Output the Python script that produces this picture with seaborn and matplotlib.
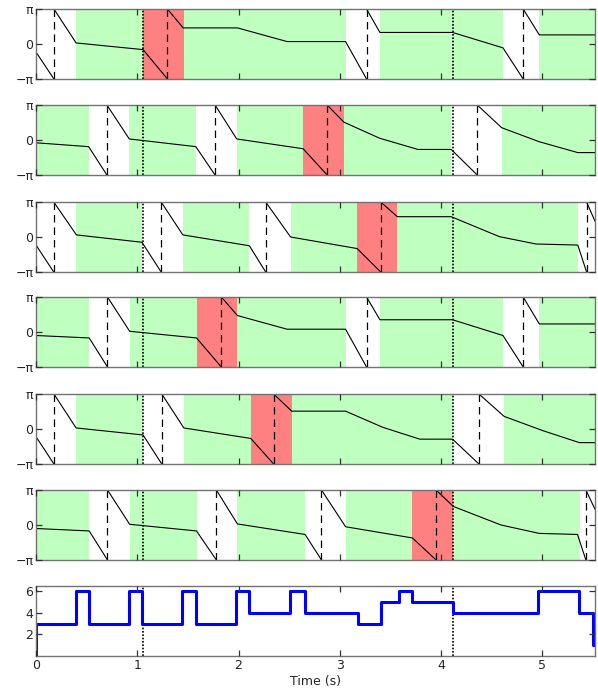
import numpy as np
import pandas as pd
import matplotlib
matplotlib.use("Agg")
import matplotlib.pyplot as plt
import seaborn as sns

sns.set_style("white")
plt.rcParams['font.family'] = ['DejaVu Sans']
plt.rcParams['axes.axisbelow'] = False

nan = np.nan
T_END = 5.52
marks = [1.057, 4.113]          # dotted reference times

# -----------------------------
# phase panels: time (s), phase (units of pi); nan = wrap from -pi to pi
# -----------------------------
p1_t = [0, 0.177, nan, 0.177, 0.396, 1.057, 1.298, nan, 1.298, 1.453, 1.989, 2.479, 3.057, 3.264,
        nan, 3.264, 3.396, 4.113, 4.611, 4.811, nan, 4.811, 4.970, 5.52]
p1_y = [-0.23, -1, nan, 1, 0.03, -0.16, -1, nan, 1, 0.46, 0.46, 0.07, 0.07, -1,
        nan, 1, 0.33, 0.33, -0.11, -1, nan, 1, 0.26, 0.26]
p1_green = [(0.396, 1.057), (1.46, 3.057), (3.396, 4.611), (4.97, 5.52)]
p1_red = (1.057, 1.46)

p2_t = [0, 0.52, 0.70, nan, 0.70, 0.921, 1.578, 1.768, nan, 1.768, 1.982, 2.638, 2.875,
        nan, 2.875, 3.04, 3.394, 3.771, 4.10, 4.357, nan, 4.357, 4.599, 4.97, 5.35, 5.52]
p2_y = [-0.08, -0.19, -1, nan, 1, 0.03, -0.19, -1, nan, 1, 0.03, -0.25, -1,
        nan, 1, 0.51, 0.05, -0.27, -0.27, -1, nan, 1, 0.35, -0.05, -0.36, -0.36]
p2_green = [(0, 0.52), (0.921, 1.578), (1.982, 2.638), (3.04, 4.10), (4.60, 5.52)]
p2_red = (2.638, 3.04)

p3_t = [0, 0.175, nan, 0.175, 0.399, 1.046, 1.236, nan, 1.236, 1.45, 2.107, 2.268,
        nan, 2.268, 2.514, 3.171, 3.404, nan, 3.404, 3.568, 4.10, 4.576, 4.938, 5.35, 5.437,
        nan, 5.437, 5.52]
p3_y = [-0.23, -1, nan, 1, 0.06, -0.15, -1, nan, 1, 0.06, -0.25, -1,
        nan, 1, 0.0, -0.33, -1, nan, 1, 0.58, 0.58, 0.01, -0.2, -0.23, -1,
        nan, 1, 0.45]
p3_green = [(0.399, 1.046), (1.45, 2.107), (2.514, 3.171), (3.568, 5.35)]
p3_red = (3.171, 3.568)

p4_t = [0, 0.525, 0.706, nan, 0.706, 0.925, 1.585, 1.83, nan, 1.83, 1.989, 2.479, 3.057, 3.264,
        nan, 3.264, 3.396, 4.113, 4.611, 4.811, nan, 4.811, 4.97, 5.52]
p4_y = [-0.1, -0.17, -1, nan, 1, 0.02, -0.17, -1, nan, 1, 0.47, 0.08, 0.08, -1,
        nan, 1, 0.35, 0.35, -0.1, -1, nan, 1, 0.23, 0.23]
p4_green = [(0, 0.525), (0.925, 1.585), (1.989, 3.057), (3.396, 4.611), (4.97, 5.52)]
p4_red = (1.585, 1.989)

p5_t = [0, 0.177, nan, 0.177, 0.396, 1.057, 1.242, nan, 1.242, 1.46, 2.121, 2.347,
        nan, 2.347, 2.525, 3.057, 3.423, 3.789, 4.113, 4.374, nan, 4.374, 4.623, 5.008, 5.366, 5.52]
p5_y = [-0.22, -1, nan, 1, 0.03, -0.17, -1, nan, 1, 0.03, -0.27, -1,
        nan, 1, 0.51, 0.51, 0.05, -0.29, -0.29, -1, nan, 1, 0.36, -0.05, -0.39, -0.39]
p5_green = [(0.396, 1.057), (1.46, 2.121), (2.525, 4.113), (4.623, 5.52)]
p5_red = (2.121, 2.525)

p6_t = [0, 0.525, 0.706, nan, 0.706, 0.925, 1.585, 1.781, nan, 1.781, 1.989, 2.657, 2.819,
        nan, 2.819, 3.057, 3.717, 3.951, nan, 3.951, 4.121, 4.592, 4.97, 5.347, 5.43,
        nan, 5.43, 5.52]
p6_y = [-0.1, -0.17, -1, nan, 1, 0.02, -0.17, -1, nan, 1, 0.03, -0.27, -1,
        nan, 1, -0.05, -0.37, -1, nan, 1, 0.53, 0.0, -0.24, -0.27, -1,
        nan, 1, 0.45]
p6_green = [(0, 0.525), (0.925, 1.585), (1.989, 2.657), (3.057, 3.717), (4.121, 5.374)]
p6_red = (3.717, 4.121)

# bottom panel: state sequence
step_t = [0, 0, 0.393, 0.525, 0.918, 1.049, 1.443, 1.584, 1.977, 2.108, 2.508, 2.655,
          3.18, 3.404, 3.585, 3.713, 4.117, 4.96, 5.365, 5.50, 5.52]
step_v = [0, 3, 6, 3, 6, 3, 6, 3, 6, 4, 6, 4,
          3, 5, 6, 5, 4, 6, 4, 1, 1]

panels = [(p1_t, p1_y, p1_green, p1_red), (p2_t, p2_y, p2_green, p2_red),
          (p3_t, p3_y, p3_green, p3_red), (p4_t, p4_y, p4_green, p4_red),
          (p5_t, p5_y, p5_green, p5_red), (p6_t, p6_y, p6_green, p6_red)]

# -----------------------------
# layout
# -----------------------------
W, H = 598, 692
fig = plt.figure(figsize=(W / 100, H / 100), dpi=100)
tops = [9, 105, 202, 297, 394, 490, 586]


def add_ax(top, h=70):
    return fig.add_axes([36 / W, 1 - (top + h) / H, 559 / W, h / H])


def style(ax):
    ax.set_xlim(0, T_END)
    ax.set_xticks(range(6))
    ax.tick_params(direction='in', length=4, width=0.9, top=True, right=True,
                   bottom=True, left=True, labelsize=9, pad=2, color='0.2')
    for s in ax.spines.values():
        s.set_color('0.45')
        s.set_linewidth(1)
    ax.set_xlabel('')
    ax.set_ylabel('')


for top, (t, y, green, red) in zip(tops, panels):
    ax = add_ax(top)
    for a, b in green:
        ax.axvspan(a, b, color='#bfffbf', lw=0, zorder=0)
    ax.axvspan(red[0], red[1], color='#ff8080', lw=0, zorder=0)

    df = pd.DataFrame({'t': t, 'y': y})
    df['seg'] = df['y'].isna().cumsum()
    df = df.dropna()
    df['phase'] = df['y'] * np.pi
    sns.lineplot(data=df, x='t', y='phase', units='seg', estimator=None, sort=False,
                 color='k', lw=0.8, ax=ax, legend=False)

    # dashed line at every wrap
    for w in df.loc[df['y'] == -1, 't']:
        ax.axvline(w, color='k', ls=(0, (6, 4)), lw=0.9, zorder=1)
    for m in marks:
        ax.axvline(m, color='k', ls=(0, (1, 1)), lw=1.2, zorder=1)

    style(ax)
    ax.set_ylim(-np.pi, np.pi)
    ax.set_yticks([-np.pi, 0, np.pi])
    ax.set_yticklabels(['−π', '0', 'π'])
    ax.set_xticklabels([])

# state panel
ax = add_ax(tops[6])
for m in marks:
    ax.axvline(m, color='k', ls=(0, (1, 1)), lw=1.2, zorder=1)
sns.lineplot(x=step_t, y=step_v, estimator=None, sort=False, drawstyle='steps-post',
             color='#0000ff', lw=2.2, ax=ax)
style(ax)
ax.set_ylim(0, 6.5)
ax.set_yticks([2, 4, 6])
ax.set_xticklabels([str(i) for i in range(6)])
ax.set_xlabel('Time (s)', fontsize=9, labelpad=2)

plt.savefig('out.png', dpi=100)
